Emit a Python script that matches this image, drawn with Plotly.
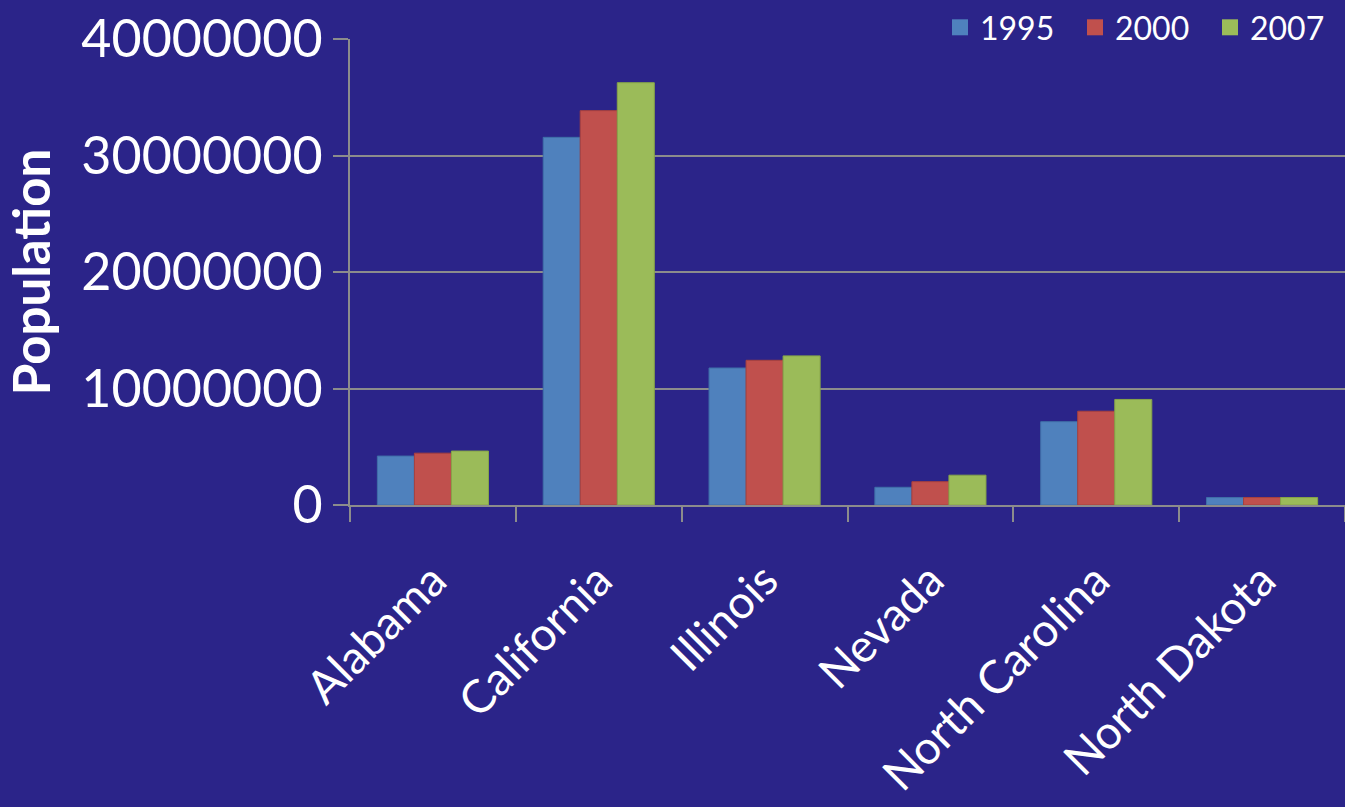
import plotly.graph_objects as go

states = ["Alabama", "California", "Illinois", "Nevada", "North Carolina", "North Dakota"]
years = ["1995", "2000", "2007"]
pop_1995 = [4200000, 31560000, 11760000, 1520000, 7150000, 640000]
pop_2000 = [4450000, 33850000, 12420000, 2000000, 8050000, 642000]
pop_2007 = [4630000, 36250000, 12800000, 2560000, 9060000, 640000]
colors = ["#4F81BD", "#C0504D", "#9BBB59"]
edges = ["#3F6FA8", "#A8403D", "#86A548"]
y_ticks = [0, 10000000, 20000000, 30000000, 40000000]

BG = "#2B2489"
FONT = "Lato, 'Open Sans', sans-serif"

fig = go.Figure()
for yr, vals, c, e in zip(years, [pop_1995, pop_2000, pop_2007], colors, edges):
    fig.add_trace(go.Bar(
        x=states, y=vals, name=yr, showlegend=False,
        marker=dict(color=c, line=dict(color=e, width=1)),
    ))
# legend entries with larger square swatches
for yr, c in zip(years, colors):
    fig.add_trace(go.Scatter(
        x=[None], y=[None], mode="markers", name=yr,
        marker=dict(symbol="square", size=20, color=c),
    ))

fig.update_layout(
    width=1345, height=807,
    paper_bgcolor=BG, plot_bgcolor=BG,
    barmode="group", bargap=0.33, bargroupgap=0,
    margin=dict(l=350, r=0, t=39, b=302, autoexpand=False),
    font=dict(family=FONT, color="white"),
    showlegend=True,
    legend=dict(
        orientation="h", xref="container", yref="container",
        x=1.0, xanchor="right", y=1.0, yanchor="top",
        font=dict(size=32, color="white"), bgcolor="rgba(0,0,0,0)",
        itemwidth=30, traceorder="normal",
        entrywidth=90, entrywidthmode="pixels",
    ),
    xaxis=dict(
        tickangle=-45, tickfont=dict(size=46, color="white"),
        showline=True, linecolor="#8C8C8C", linewidth=2,
        ticks="outside", ticklen=15, tickcolor="#8C8C8C", tickwidth=2,
        tickson="boundaries", showgrid=False, ticklabelstandoff=28,
    ),
    yaxis=dict(
        range=[0, 40000000], tickvals=y_ticks,
        ticktext=[str(v) for v in y_ticks],
        tickfont=dict(size=52, color="white"),
        showline=True, linecolor="#8C8C8C", linewidth=2,
        ticks="outside", ticklen=15, tickcolor="#8C8C8C", tickwidth=2,
        showgrid=True, gridcolor="#8C8C8C", gridwidth=2,
        zeroline=False,
        title=dict(text="<b>Population</b>", font=dict(size=51, color="white"), standoff=20),
    ),
)

fig.write_html(
    "out.html",
    config={"displayModeBar": False},
    post_script="document.body.style.margin='0';document.body.style.background='#2B2489';",
)
